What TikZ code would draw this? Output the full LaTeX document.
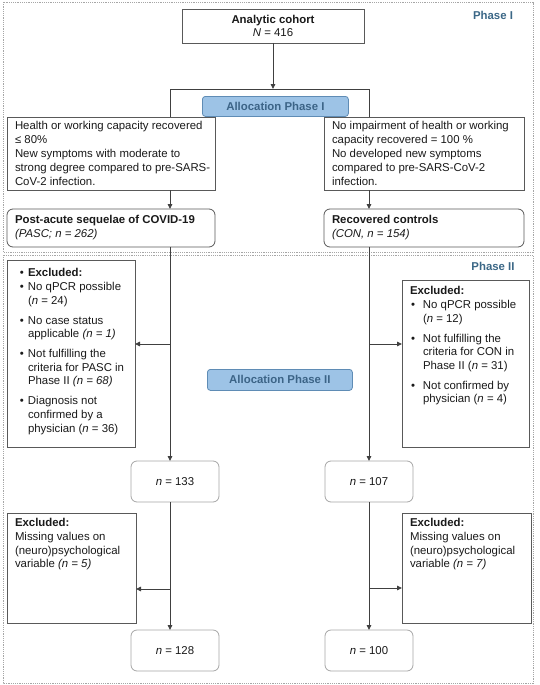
\documentclass[tikz,border=0pt]{standalone}
\usepackage{fontspec}
\setmainfont{Liberation Sans}
\usetikzlibrary{arrows.meta}
\definecolor{framec}{HTML}{A6A6A6}
\definecolor{boxline}{HTML}{595959}
\definecolor{nline}{HTML}{A6A6A6}
\definecolor{arrowc}{HTML}{404040}
\definecolor{allocfill}{HTML}{9DC3E6}
\definecolor{allocline}{HTML}{5F8CB5}
\definecolor{alloctext}{HTML}{3C6487}
\definecolor{phasetext}{HTML}{3B6786}
\definecolor{txt}{HTML}{1A1A1A}
\newcommand{\bitem}[1]{\par\noindent\hangindent=21pt\hangafter=1\hspace*{13pt}\makebox[8pt][l]{•}#1\par}
\newcommand{\ritem}[1]{\par\noindent\hangindent=21pt\hangafter=1\hspace*{9pt}\makebox[12pt][l]{•}#1\par}
\newcommand{\gap}{\vspace{6.4pt}}
\newcommand{\lines}[2]{\parbox{#1}{\raggedright\leftskip=8pt\baselineskip=14pt #2}}
\tikzset{
  phaseframe/.style={draw=framec, line width=0.8pt, dash pattern=on 1.2pt off 1pt},
  plainbox/.style={draw=boxline, line width=0.8pt, fill=white, outer sep=0pt, anchor=north west, font=\fontsize{11.4}{13.8}\selectfont, text=txt},
  topbox/.style={plainbox, inner sep=0pt},
  groupbox/.style={plainbox, rounded corners=6pt, inner sep=0pt},
  nbox/.style={plainbox, draw=nline, rounded corners=6pt, inner sep=0pt},
  allocbox/.style={draw=allocline, fill=allocfill, line width=0.8pt, rounded corners=3pt, anchor=north west, inner sep=0pt, text=alloctext, font=\fontsize{11.4}{13.8}\selectfont\bfseries},
  phaselabel/.style={text=phasetext, font=\fontsize{11.4}{13.8}\selectfont\bfseries, inner sep=0pt},
  conn/.style={draw=arrowc, line width=0.9pt},
  arr/.style={conn, -{Triangle[length=5pt,width=4.5pt]}}
}
\begin{document}
\begin{tikzpicture}[x=1pt,y=-1pt]
\useasboundingbox (0,0) rectangle (539,685);
% phase frames
\draw[phaseframe] (3,2) rectangle (533,252);
\draw[phaseframe] (3,255) rectangle (533,683);
\node[phaselabel] (ph1) at (493,15) {Phase I};
\node[phaselabel] (ph2) at (493,266) {Phase II};

% Phase I
\node[topbox, minimum width=182pt, minimum height=34pt, align=center] (cohort) at (182,9)
  {\textbf{Analytic cohort}\\\textit{N} = 416};
\coordinate (alTL) at (170,89);
\coordinate (alTR) at (369,89);
\node[topbox, minimum height=73pt] (critL) at (7,117)
  {\lines{208pt}{\mbox{Health or working capacity recovered}\\\mbox{≤ 80\%}\\\mbox{New symptoms with moderate to}\\\mbox{strong degree compared to pre-SARS-}\\\mbox{CoV-2 infection.}}};
\node[topbox, minimum height=73pt] (critR) at (324,117)
  {\lines{200pt}{\mbox{No impairment of health or working}\\\mbox{capacity recovered = 100 \%}\\\mbox{No developed new symptoms}\\\mbox{compared to pre-SARS-CoV-2}\\\mbox{infection.}}};
\draw[conn] (critL.north -| alTL) -- (alTL) -- (alTR) -- (critR.north -| alTR);
\draw[arr] (cohort.south) -- (cohort.south |- alTL);
\node[allocbox, minimum width=146pt, minimum height=20pt] (al1) at (202,96) {Allocation Phase I};
\node[groupbox, minimum height=38pt] (pasc) at (7,209)
  {\lines{208pt}{\textbf{Post-acute sequelae of COVID-19}\\\textit{(PASC; n = 262)}}};
\node[groupbox, minimum height=38pt] (con) at (324,209)
  {\lines{200pt}{\textbf{Recovered controls}\\\textit{(CON, n = 154)}}};
\draw[arr] (critL.south -| alTL) -- (pasc.north -| alTL);
\draw[arr] (critR.south -| alTR) -- (con.north -| alTR);

% Phase II
\node[topbox] (exL1) at (7,260)
  {\parbox[c][187pt][t]{128pt}{\vspace*{8.7pt}\raggedright\baselineskip=13.6pt
   \bitem{\textbf{Excluded:}}
   \bitem{No qPCR possible\newline(\textit{n} = 24)}\gap
   \bitem{No case status\newline applicable \textit{(n = 1)}}\gap
   \bitem{Not fulfilling the\newline criteria for PASC in\newline Phase II \textit{(n = 68)}}\gap
   \bitem{Diagnosis not\newline confirmed by a\newline physician (\textit{n} = 36)}}};
\node[topbox] (exR1) at (402,280)
  {\parbox[c][167pt][t]{127pt}{\vspace*{6.7pt}\raggedright\baselineskip=13.6pt
   \par\noindent\hspace*{8pt}\textbf{Excluded:}\par
   \ritem{No qPCR possible\newline(\textit{n} = 12)}\gap
   \ritem{Not fulfilling the\newline criteria for CON in\newline Phase II (\textit{n} = 31)}\gap
   \ritem{Not confirmed by\newline physician (\textit{n} = 4)}}};
\node[allocbox, minimum width=145pt, minimum height=21pt] (al2) at (207,369) {Allocation Phase II};
\node[nbox, minimum width=88pt, minimum height=41pt] (n133) at (131,461) {\textit{n} = 133};
\node[nbox, minimum width=88pt, minimum height=41pt] (n107) at (325,461) {\textit{n} = 107};
\node[topbox] (exL2) at (7,513)
  {\parbox[c][110pt][t]{129pt}{\vspace*{5.7pt}\raggedright\baselineskip=13.6pt\leftskip=8pt
   \textbf{Excluded:}\\Missing values on\\(neuro)psychological\\variable \textit{(n = 5)}}};
\node[topbox] (exR2) at (402,513)
  {\parbox[c][110pt][t]{129pt}{\vspace*{5.7pt}\raggedright\baselineskip=13.6pt\leftskip=8pt
   \textbf{Excluded:}\\Missing values on\\(neuro)psychological\\variable \textit{(n = 7)}}};
\node[nbox, minimum width=88pt, minimum height=41pt] (n128) at (131,630) {\textit{n} = 128};
\node[nbox, minimum width=88pt, minimum height=41pt] (n100) at (325,630) {\textit{n} = 100};

\draw[arr] (pasc.south -| alTL) -- (n133.north -| alTL);
\draw[arr] (con.south -| alTR) -- (n107.north -| alTR);
\coordinate (bL1) at (170,344);
\coordinate (bR1) at (369,344);
\draw[arr] (bL1) -- (bL1 -| exL1.east);
\draw[arr] (bR1) -- (bR1 -| exR1.west);
\draw[arr] (n133.south -| alTL) -- (n128.north -| alTL);
\draw[arr] (n107.south -| alTR) -- (n100.north -| alTR);
\coordinate (bL2) at (170,589);
\coordinate (bR2) at (369,588);
\draw[arr] (bL2) -- (bL2 -| exL2.east);
\draw[arr] (bR2) -- (bR2 -| exR2.west);
\end{tikzpicture}
\end{document}
